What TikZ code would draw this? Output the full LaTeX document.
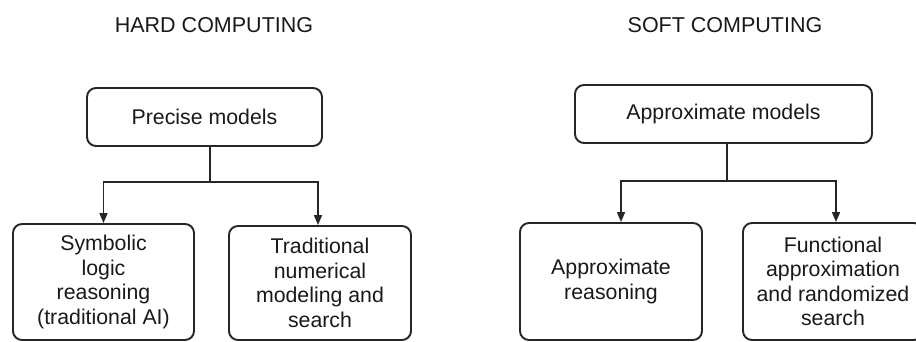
\documentclass[tikz,border=0pt]{standalone}
\usepackage{fontspec}
\setmainfont{Liberation Sans}
\usetikzlibrary{arrows.meta}
\begin{document}
\begin{tikzpicture}[x=1pt,y=-1pt,
  every node/.style={font=\fontsize{21.3}{24.5}\selectfont, text=black!90},
  box/.style={draw=black!85, line width=1.9pt, rounded corners=9pt, inner sep=0pt, align=center},
  title/.style={font=\fontsize{21.5}{24}\selectfont},
  conn/.style={draw=black!85, line width=1.6pt},
  arr/.style={conn, -{Triangle[length=10pt,width=8pt]}}]
\useasboundingbox (0,0) rectangle (916,342);
\clip (0,0) rectangle (916,342);
\node[title] (t1) at (214,25) {HARD COMPUTING};
\node[title] (t2) at (725,25) {SOFT COMPUTING};
\node[box, minimum width=235pt, minimum height=58pt] (tl) at (204.5,117) {Precise models};
\node[box, minimum width=297pt, minimum height=58pt] (tr) at (723.5,114) {Approximate models};
\node[box, minimum width=181pt, minimum height=116pt] (bl1) at (103.5,282) {Symbolic\\logic\\reasoning\\(traditional AI)};
\node[box, minimum width=182pt, minimum height=114pt] (bl2) at (320,283) {Traditional\\numerical\\modeling and\\search};
\node[box, minimum width=182pt, minimum height=117pt] (br1) at (611,281.5) {Approximate\\reasoning};
\node[box, minimum width=180pt, minimum height=117pt] (br2) at (833,281.5) {Functional\\approximation\\and randomized\\search};
\coordinate (jl) at (210,182);
\coordinate (jr) at (727,181);
\draw[conn] ([xshift=5.5pt]tl.south) -- (jl);
\draw[arr] (jl) -| (bl1.north);
\draw[arr] (jl) -| ([xshift=-2pt]bl2.north);
\draw[conn] ([xshift=3.5pt]tr.south) -- (jr);
\draw[arr] (jr) -| ([xshift=10pt]br1.north);
\draw[arr] (jr) -| ([xshift=3pt]br2.north);
\end{tikzpicture}
\end{document}
